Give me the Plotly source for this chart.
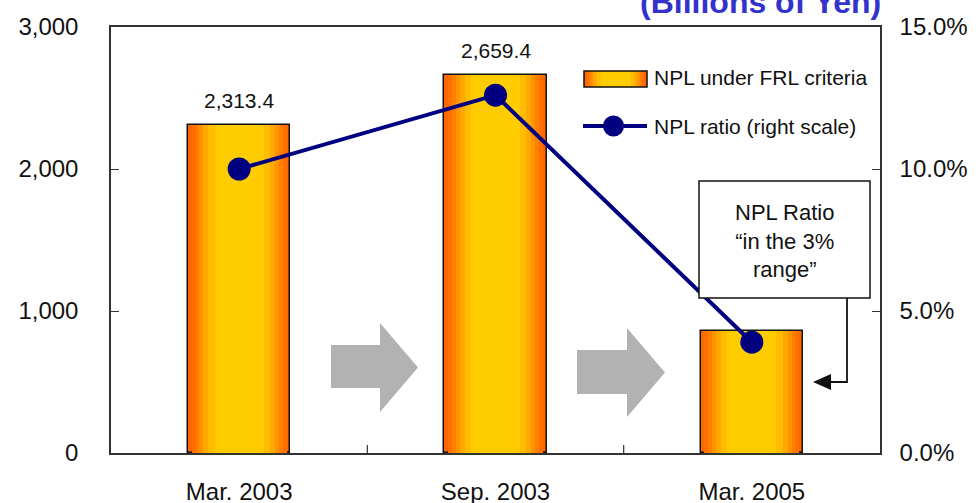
import plotly.graph_objects as go

# ---- data ----
categories = ["Mar. 2003", "Sep. 2003", "Mar. 2005"]
npl_amount = [2313.4, 2659.4, 860.0]          # billions of yen (left scale)
npl_ratio = [10.0, 12.6, 3.9]                 # percent (right scale)
amount_labels = ["2,313.4", "2,659.4", ""]
left_ticks = [0, 1000, 2000, 3000]
left_tick_labels = ["0", "1,000", "2,000", "3,000"]
right_ticks = [0, 5, 10, 15]
right_tick_labels = ["0.0%", "5.0%", "10.0%", "15.0%"]

# ---- layout geometry (pixels) ----
W, H = 980, 503
L, R, T, B = 111, 880, 27, 453
PW, PH = R - L, B - T


def px(x):
    return (x - L) / PW


def py(y):
    return (B - y) / PH


xpos = list(range(len(categories)))

# gradient stripes (outer -> inner)
stripe_colors = ["#FF6600", "#FF7000", "#FF8000", "#FF9400", "#FFA800", "#FFBC00", "#FFCC00"]
stripe_widths = [0.40, 0.37, 0.34, 0.31, 0.28, 0.24, 0.19]

fig = go.Figure()
for i, (c, w) in enumerate(zip(stripe_colors, stripe_widths)):
    fig.add_trace(go.Bar(
        x=xpos, y=npl_amount, width=w,
        marker=dict(color=c, line=dict(color="#111111" if i == 0 else c, width=1.5 if i == 0 else 0)),
        hoverinfo="skip", showlegend=False, name="NPL under FRL criteria",
    ))

fig.add_trace(go.Scatter(
    x=xpos, y=npl_ratio, yaxis="y2", mode="lines+markers",
    line=dict(color="#000080", width=4),
    marker=dict(color="#000080", size=23),
    showlegend=False, name="NPL ratio (right scale)",
))

axis_font = dict(size=24, color="#111111", family="Liberation Sans, Arial")

fig.update_layout(
    width=W, height=H,
    margin=dict(l=L, r=W - R, t=T, b=H - B, autoexpand=False),
    paper_bgcolor="white", plot_bgcolor="white",
    barmode="overlay", bargap=0,
    font=dict(family="Liberation Sans, Arial", color="#111111"),
    xaxis=dict(
        tickmode="array", tickvals=xpos, ticktext=categories,
        range=[-0.5, len(categories) - 0.5],
        showline=True, linecolor="#333333", linewidth=1.5, mirror=True,
        ticks="", showgrid=False, zeroline=False, automargin=False,
        tickfont=axis_font, ticklabelstandoff=16,
    ),
    yaxis=dict(
        range=[0, 3000], tickmode="array", tickvals=left_ticks, ticktext=left_tick_labels,
        showline=True, linecolor="#333333", linewidth=1.5,
        ticks="inside", ticklen=8, tickcolor="#333333",
        showgrid=False, zeroline=False, automargin=False,
        tickfont=axis_font, ticklabelstandoff=26,
    ),
    yaxis2=dict(
        range=[0, 15], tickmode="array", tickvals=right_ticks, ticktext=right_tick_labels,
        overlaying="y", side="right",
        showline=True, linecolor="#333333", linewidth=1.5,
        ticks="inside", ticklen=8, tickcolor="#333333",
        showgrid=False, zeroline=False, automargin=False,
        tickfont=axis_font, ticklabelstandoff=13,
    ),
)

shapes = []
# category boundary ticks on bottom axis
for bx in [0.5, 1.5]:
    shapes.append(dict(type="line", xref="x", yref="paper", x0=bx, x1=bx, y0=0, y1=8 / PH,
                       line=dict(color="#333333", width=1.2)))


# gray arrows (pixel outlines converted to paper)
def arrow(x0, xh, xt, bt, bb, ht, hb):
    pts = [(x0, bt), (xh, bt), (xh, ht), (xt, (ht + hb) / 2), (xh, hb), (xh, bb), (x0, bb)]
    path = "M " + " L ".join(f"{px(a):.4f},{py(b):.4f}" for a, b in pts) + " Z"
    return dict(type="path", xref="paper", yref="paper", path=path,
                fillcolor="#B2B2B2", line=dict(width=0), layer="above")


shapes.append(arrow(331, 380, 418, 345, 388, 323, 412))
shapes.append(arrow(577, 627, 665, 350, 394, 328, 417))

# callout box
shapes.append(dict(type="rect", xref="paper", yref="paper",
                   x0=px(699), x1=px(870), y0=py(298), y1=py(181),
                   fillcolor="white", line=dict(color="#111111", width=1.5), layer="above"))
# connector
shapes.append(dict(type="path", xref="paper", yref="paper",
                   path=f"M {px(847):.4f},{py(298):.4f} L {px(847):.4f},{py(382):.4f} L {px(826):.4f},{py(382):.4f}",
                   line=dict(color="#111111", width=1.8), layer="above"))
shapes.append(dict(type="path", xref="paper", yref="paper",
                   path=f"M {px(813):.4f},{py(382):.4f} L {px(831):.4f},{py(374):.4f} L {px(831):.4f},{py(390):.4f} Z",
                   fillcolor="#111111", line=dict(width=0), layer="above"))

# custom legend: gradient rectangle
lx0, lx1, ly0, ly1 = 584, 647, 71, 87
lw = lx1 - lx0
for c, w in zip(stripe_colors, stripe_widths):
    half = lw * (w / stripe_widths[0]) / 2
    cx = (lx0 + lx1) / 2
    shapes.append(dict(type="rect", xref="paper", yref="paper",
                       x0=px(cx - half), x1=px(cx + half), y0=py(ly1), y1=py(ly0),
                       fillcolor=c, line=dict(width=0), layer="above"))
shapes.append(dict(type="rect", xref="paper", yref="paper",
                   x0=px(lx0), x1=px(lx1), y0=py(ly1), y1=py(ly0),
                   fillcolor="rgba(0,0,0,0)", line=dict(color="#111111", width=1.5), layer="above"))
# legend line + marker
shapes.append(dict(type="line", xref="paper", yref="paper",
                   x0=px(583), x1=px(647), y0=py(126), y1=py(126),
                   line=dict(color="#000080", width=4), layer="above"))
shapes.append(dict(type="circle", xref="paper", yref="paper",
                   x0=px(603), x1=px(624), y0=py(136.5), y1=py(115.5),
                   fillcolor="#000080", line=dict(width=0), layer="above"))

fig.update_layout(shapes=shapes)

label_font = dict(size=21, color="#111111", family="Liberation Sans, Arial")
legend_font = dict(size=21, color="#111111", family="Liberation Sans, Arial")
annotations = []
for xi, v, lab in zip(xpos, npl_amount, amount_labels):
    if lab:
        annotations.append(dict(text=lab, x=xi, y=v, xref="x", yref="y", yanchor="bottom",
                                yshift=11, showarrow=False, font=label_font))
annotations += [
    dict(text="NPL under FRL criteria", xref="paper", yref="paper", x=px(652), y=py(78),
         xanchor="left", yanchor="middle", showarrow=False, font=legend_font),
    dict(text="NPL ratio (right scale)", xref="paper", yref="paper", x=px(652), y=py(126),
         xanchor="left", yanchor="middle", showarrow=False, font=legend_font),
    dict(text="NPL Ratio<br>“in the 3%<br>range”", xref="paper", yref="paper",
         x=px(784), y=py(241), xanchor="center", yanchor="middle", showarrow=False,
         align="center", font=dict(size=22, color="#111111", family="Liberation Sans, Arial")),
    dict(text="<b>(Billions of Yen)</b>", xref="paper", yref="paper", x=px(883), y=py(2),
         xanchor="right", yanchor="middle", showarrow=False,
         font=dict(size=32, color="#3333CC", family="Liberation Sans, Arial")),
]
fig.update_layout(annotations=annotations)

fig.write_html("out.html", post_script="document.body.style.margin='0';",
               config={"displayModeBar": False})
